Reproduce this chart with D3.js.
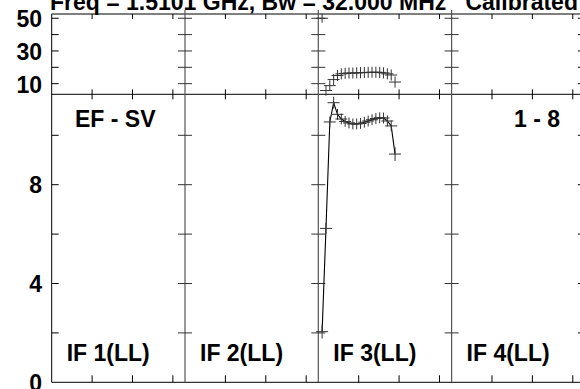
<!DOCTYPE html>
<html><head><meta charset="utf-8">
<script src="https://cdn.jsdelivr.net/npm/d3@7/dist/d3.min.js"></script>
<style>
html,body{margin:0;padding:0;background:#fff;}
svg{display:block;}
text{font-family:"Liberation Sans",Arial,sans-serif;font-weight:bold;fill:#000;}
</style></head><body>
<svg id="c" width="580" height="389"></svg>
<script>
// ---- data ----
const titleText = "Freq = 1.5101 GHz, Bw = 32.000 MHz   Calibrated";
const panelLabels = ["IF 1(LL)", "IF 2(LL)", "IF 3(LL)", "IF 4(LL)"];
const sourceLabel = "EF - SV";
const baselineLabel = "1 - 8";
const xTicks = [10, 20, 30];
const ampTicks = [2, 4, 6, 8, 10];
const ampTickLabels = [0, 4, 8];
const phaseTicks = [10, 20, 30, 40, 50];
const phaseTickLabels = [10, 30, 50];
// IF 3 data (frequency offset within IF, MHz)
const if3Freq = [0.94, 1.9, 2.85, 3.8, 4.75, 5.7, 6.65, 7.6, 8.55, 9.5, 10.45, 11.4, 12.35, 13.3, 14.25, 15.2, 16.15, 17.1, 18.05, 19.0];
const if3Amp = [2.05, 6.23, 10.54, 11.32, 10.85, 10.66, 10.56, 10.5, 10.46, 10.46, 10.48, 10.53, 10.58, 10.63, 10.68, 10.71, 10.7, 10.58, 10.38, 9.24];
const if3AmpErr = [0.28, 0.22, 0.22, 0.24, 0.22, 0.22, 0.22, 0.22, 0.22, 0.22, 0.22, 0.22, 0.22, 0.22, 0.22, 0.22, 0.22, 0.22, 0.22, 0.28];
const if3Phase = [50.0, 5.8, 8.8, 12.5, 15.0, 16.0, 16.3, 16.5, 16.5, 16.6, 16.7, 16.8, 16.9, 17.0, 17.0, 16.9, 16.6, 16.0, 15.3, 11.0];
const if3PhaseErr = [2.8, 3.2, 3.2, 3.4, 3.4, 3.4, 3.4, 3.4, 3.4, 3.4, 3.4, 3.4, 3.4, 3.4, 3.4, 3.4, 3.4, 3.4, 3.4, 3.4];

// ---- layout ----
const svg = d3.select("#c");
const L = 51.7, PW = 133.3, nP = 4;
const yTop = 14, yMid = 94.3, yBot = 382.3;
const panelX = d3.scaleLinear().domain([0, nP]).range([L, L + nP * PW]);
const xIn = d3.scaleLinear().domain([0, 33]).range([0, PW]);
const yAmp = d3.scaleLinear().domain([0, 11.66]).range([yBot, yMid]);
const yPh = d3.scaleLinear().domain([3.5, 52.6]).range([yMid, yTop]);
const R = panelX(nP);

const g = svg.append("g");
const ln = (x1,y1,x2,y2,c,w) => g.append("line").attr("x1",x1).attr("y1",y1).attr("x2",x2).attr("y2",y2)
  .attr("stroke",c||"#000").attr("stroke-width",w||1);

// title (cropped at top, as in the reference)
svg.append("text").attr("x", 50).attr("y", 9.5).attr("font-size", 23)
  .attr("xml:space", "preserve").style("white-space", "pre").text(titleText);

// frame
ln(L, yTop, R, yTop);
ln(L, yMid, R, yMid);
ln(L, yBot, R, yBot);
ln(L, yTop, L, yBot);
ln(R, yTop, R, yBot);
// panel separators
for (let p = 1; p < nP; p++) {
  const x = panelX(p);
  ln(x, yTop - 4, x, yBot, "#555", 1.2);
}
// x ticks
for (let p = 0; p < nP; p++) {
  xTicks.forEach(t => {
    const x = panelX(p) + xIn(t);
    ln(x, yTop, x, yTop + 5);
    ln(x, yMid - 5, x, yMid + 5);
    ln(x, yBot - 7, x, yBot);
  });
}
// y ticks
function yTicksAt(scale, ticks) {
  ticks.forEach(t => {
    const y = scale(t);
    ln(L, y, L + 7, y);
    ln(R - 7, y, R, y);
    for (let p = 1; p < nP; p++) {
      const x = panelX(p);
      ln(x - 7, y, x + 7, y, "#333");
    }
  });
}
yTicksAt(yAmp, ampTicks);
yTicksAt(yPh, phaseTicks);

// y tick labels
ampTickLabels.forEach(t => svg.append("text").attr("x", 42).attr("y", yAmp(t) + 8.7)
  .attr("text-anchor", "end").attr("font-size", 23).text(t));
phaseTickLabels.forEach(t => svg.append("text").attr("x", 42).attr("y", yPh(t) + 9)
  .attr("text-anchor", "end").attr("font-size", 23).text(t));

// panel labels
panelLabels.forEach((s, p) => svg.append("text").attr("x", panelX(p) + 15).attr("y", 360.5)
  .attr("font-size", 23).text(s));
svg.append("text").attr("x", 75).attr("y", 126.5).attr("font-size", 23).text(sourceLabel);
svg.append("text").attr("x", 560).attr("y", 126.5).attr("text-anchor", "end").attr("font-size", 23).text(baselineLabel);

// IF 3 data
const p3 = 2;
const xd = f => panelX(p3) + xIn(f);
const ampPts = if3Freq.map((f, i) => ({x: xd(f), v: if3Amp[i], e: if3AmpErr[i]}));
const phPts = if3Freq.map((f, i) => ({x: xd(f), v: if3Phase[i], e: if3PhaseErr[i]}));

g.append("path").datum(ampPts)
  .attr("d", d3.line().x(d => d.x).y(d => yAmp(d.v)))
  .attr("fill", "none").attr("stroke", "#000").attr("stroke-width", 1.1);

function crosses(pts, ys) {
  const cg = g.append("g").attr("stroke", "#333").attr("stroke-width", 1);
  pts.forEach(d => {
    cg.append("line").attr("x1", d.x - 6).attr("x2", d.x + 6).attr("y1", ys(d.v)).attr("y2", ys(d.v));
    cg.append("line").attr("x1", d.x).attr("x2", d.x).attr("y1", ys(d.v - d.e)).attr("y2", ys(d.v + d.e));
  });
}
crosses(ampPts, yAmp);
crosses(phPts, yPh);
</script>
</body></html>
